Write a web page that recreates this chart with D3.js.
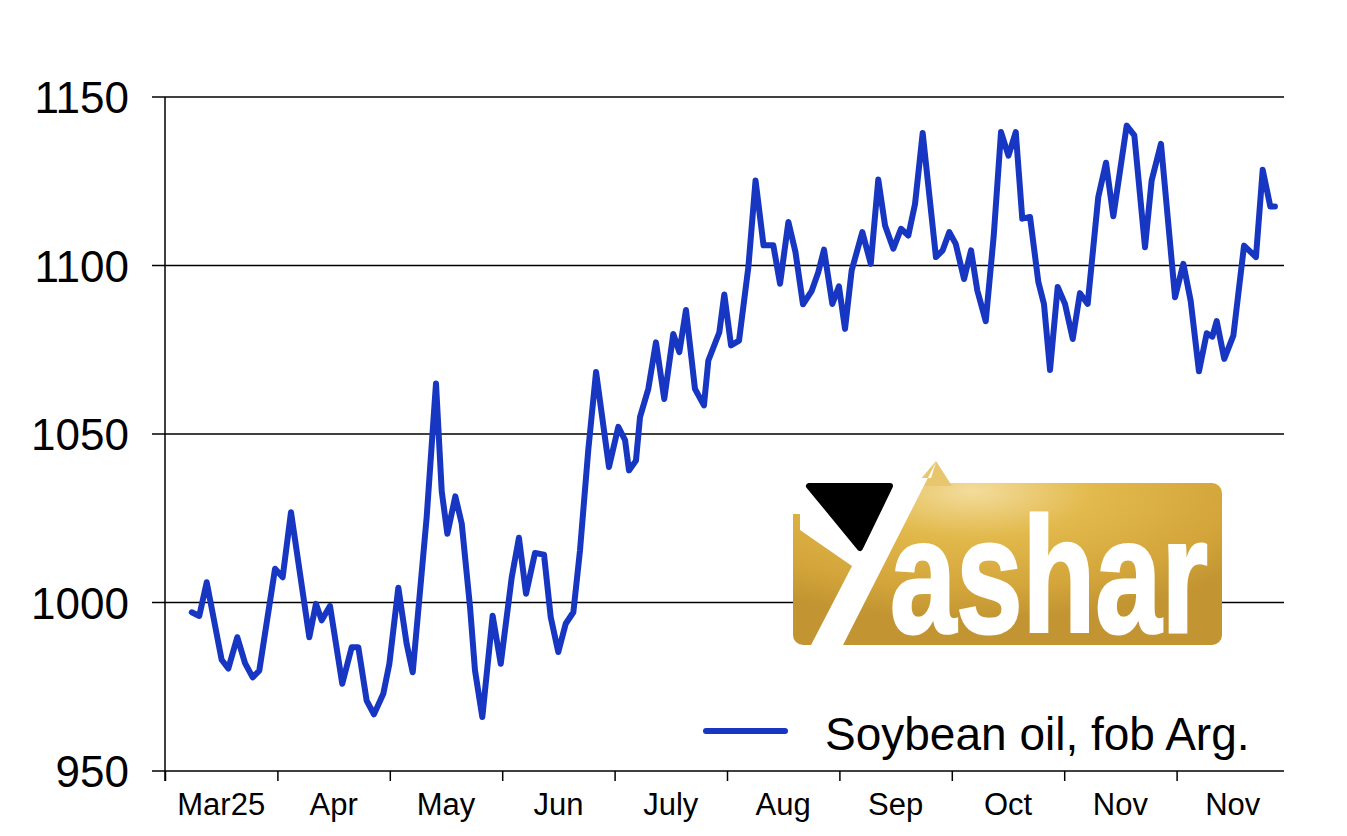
<!DOCTYPE html>
<html>
<head>
<meta charset="utf-8">
<script src="https://cdn.jsdelivr.net/npm/d3@7"></script>
<style>
  html, body { margin: 0; padding: 0; background: #ffffff; }
  svg { display: block; }
  text { font-family: "Liberation Sans", Arial, sans-serif; fill: #000; }
</style>
</head>
<body>
<svg id="chart" width="1347" height="836"></svg>
<script>
// ---- data ----
const monthLabels = ["Mar25", "Apr", "May", "Jun", "July", "Aug", "Sep", "Oct", "Nov", "Nov"];
const yTicks = [950, 1000, 1050, 1100, 1150];
const seriesName = "Soybean oil, fob Arg.";
// position in months from the start of March
const monthPos = [
  0.238, 0.305, 0.371, 0.504, 0.563, 0.643, 0.712, 0.780, 0.839, 0.979,
  1.047, 1.121, 1.284, 1.343, 1.394, 1.468, 1.577, 1.661, 1.720, 1.794,
  1.859, 1.942, 1.996, 2.076, 2.150, 2.204, 2.328, 2.411, 2.462, 2.512,
  2.583, 2.640, 2.714, 2.758, 2.823, 2.915, 2.987, 3.085, 3.149, 3.212,
  3.292, 3.372, 3.432, 3.499, 3.565, 3.633, 3.692, 3.766, 3.835, 3.950,
  4.033, 4.093, 4.128, 4.190, 4.226, 4.300, 4.368, 4.442, 4.522, 4.576,
  4.635, 4.715, 4.795, 4.834, 4.932, 4.976, 5.036, 5.107, 5.190, 5.254,
  5.325, 5.412, 5.472, 5.546, 5.609, 5.676, 5.754, 5.812, 5.863, 5.937,
  5.996, 6.050, 6.109, 6.204, 6.279, 6.346, 6.406, 6.480, 6.548, 6.613,
  6.673, 6.741, 6.859, 6.919, 6.978, 7.035, 7.109, 7.171, 7.227, 7.302,
  7.373, 7.438, 7.504, 7.569, 7.627, 7.696, 7.770, 7.820, 7.874, 7.942,
  8.007, 8.076, 8.140, 8.209, 8.303, 8.372, 8.437, 8.556, 8.624, 8.719,
  8.778, 8.861, 8.986, 9.060, 9.125, 9.199, 9.268, 9.318, 9.357, 9.424,
  9.505, 9.600, 9.706, 9.766, 9.834, 9.875
];
const prices = [
  997.1, 996.0, 1006.0, 983.0, 980.4, 989.7, 982.0, 977.8, 979.8, 1010.0,
  1007.5, 1026.8, 989.7, 999.6, 994.7, 999.0, 975.9, 986.7, 986.7, 970.9,
  966.8, 972.9, 981.8, 1004.4, 987.7, 979.3, 1025.3, 1065.0, 1033.0, 1020.4,
  1031.5, 1023.4, 998.6, 979.8, 966.0, 996.1, 981.8, 1007.5, 1019.2, 1002.6,
  1014.7, 1014.2, 995.6, 985.3, 993.7, 997.1, 1015.4, 1045.3, 1068.4, 1040.2,
  1052.1, 1048.2, 1039.2, 1042.1, 1055.0, 1063.4, 1077.2, 1060.4, 1079.7, 1074.3,
  1086.8, 1063.4, 1058.5, 1071.8, 1080.2, 1091.4, 1076.3, 1077.7, 1099.5, 1125.2,
  1106.0, 1106.0, 1094.6, 1112.9, 1104.0, 1088.5, 1092.5, 1098.0, 1104.7, 1088.6,
  1093.8, 1081.2, 1098.5, 1109.9, 1100.5, 1125.5, 1111.9, 1105.0, 1110.9, 1108.9,
  1118.3, 1139.3, 1102.5, 1104.5, 1109.9, 1106.4, 1096.0, 1104.5, 1092.6, 1083.5,
  1108.8, 1139.6, 1132.6, 1139.6, 1113.9, 1114.4, 1095.1, 1088.6, 1069.0, 1093.6,
  1088.6, 1078.2, 1091.8, 1088.6, 1120.3, 1130.5, 1114.6, 1141.5, 1138.6, 1105.4,
  1125.2, 1136.1, 1090.6, 1100.5, 1089.6, 1068.6, 1079.9, 1078.9, 1083.5, 1072.3,
  1079.2, 1105.9, 1102.5, 1128.4, 1117.5, 1117.5
];
const series = monthPos.map((m, i) => ({ m: m, v: prices[i] }));

// ---- layout ----
const svg = d3.select("#chart");
const W = 1347, H = 836;
const x = d3.scaleLinear().domain([0, 10]).range([165, 1289]);
const y = d3.scaleLinear().domain([950, 1150]).range([771, 97]);
const plotRight = 1284;
const lineColor = "#1736c2";

svg.append("rect").attr("width", W).attr("height", H).attr("fill", "#fff");

// gridlines (extend to the left as tick marks)
svg.append("g").selectAll("line").data(yTicks).join("line")
  .attr("x1", 152).attr("x2", plotRight)
  .attr("y1", d => y(d)).attr("y2", d => y(d))
  .attr("stroke", "#000").attr("stroke-width", 1.5);

// y labels
svg.append("g").selectAll("text").data(yTicks).join("text")
  .attr("x", 129).attr("y", d => y(d) + 16)
  .attr("text-anchor", "end")
  .attr("font-size", 44)
  .text(d => d);

// y axis line
svg.append("line")
  .attr("x1", x(0)).attr("x2", x(0))
  .attr("y1", y(1150)).attr("y2", 781)
  .attr("stroke", "#000").attr("stroke-width", 1.5);

// x axis ticks
const xAxis = d3.axisBottom(x)
  .tickValues(d3.range(0, monthLabels.length))
  .tickSize(10)
  .tickFormat("");
const gx = svg.append("g").attr("transform", `translate(0,${y(950)})`).call(xAxis);
gx.select(".domain").remove();
gx.selectAll(".tick line").attr("stroke", "#000").attr("stroke-width", 1.5);

// x labels centred between ticks
svg.append("g").selectAll("text").data(monthLabels).join("text")
  .attr("x", (d, i) => x(i + 0.5))
  .attr("y", 815)
  .attr("text-anchor", "middle")
  .attr("font-size", 31)
  .text(d => d);

// ---- logo (watermark) ----
const logo = svg.append("g");
const defs = svg.append("defs");
const grad = defs.append("radialGradient").attr("id", "gold")
  .attr("cx", "42%").attr("cy", "5%").attr("r", "80%")
  .attr("fx", "42%").attr("fy", "5%");
grad.append("stop").attr("offset", "0%").attr("stop-color", "#f3dc9c");
grad.append("stop").attr("offset", "35%").attr("stop-color", "#e2b94c");
grad.append("stop").attr("offset", "75%").attr("stop-color", "#d3a53a");
grad.append("stop").attr("offset", "100%").attr("stop-color", "#c29432");

logo.append("rect")
  .attr("x", 793).attr("y", 483).attr("width", 429).attr("height", 162)
  .attr("rx", 10).attr("fill", "url(#gold)");
logo.append("path")
  .attr("d", "M915,486 L936,461 L952,486 Z")
  .attr("fill", "#e8c66e");
// white cut-out (top-left background + Y stroke)
logo.append("path")
  .attr("d", "M788,478 L931,478 L936,462 L842,647 L810,647 L852,566 L800,530 L800,514 L788,514 Z")
  .attr("fill", "#fff");
// black triangle
logo.append("path")
  .attr("d", "M809,486 L890,486 L860,548 Z")
  .attr("fill", "#000").attr("stroke", "#000")
  .attr("stroke-width", 6).attr("stroke-linejoin", "round");
// lettering
logo.append("text")
  .attr("x", 890).attr("y", 632)
  .attr("font-family", "'DejaVu Sans Condensed', 'Liberation Sans Narrow', Arial, sans-serif")
  .attr("font-weight", "bold")
  .attr("font-size", 164)
  .attr("textLength", 318)
  .attr("lengthAdjust", "spacingAndGlyphs")
  .style("fill", "#fff")
  .style("stroke", "#fff")
  .style("stroke-width", 3)
  .text("ashar");

// ---- series line ----
const line = d3.line().x(d => x(d.m)).y(d => y(d.v));
svg.append("path")
  .datum(series)
  .attr("d", line)
  .attr("fill", "none")
  .attr("stroke", lineColor)
  .attr("stroke-width", 6)
  .attr("stroke-linejoin", "round")
  .attr("stroke-linecap", "round");

// ---- legend ----
svg.append("line")
  .attr("x1", 706).attr("x2", 785).attr("y1", 731).attr("y2", 731)
  .attr("stroke", lineColor).attr("stroke-width", 6).attr("stroke-linecap", "round");
svg.append("text")
  .attr("x", 825).attr("y", 750)
  .attr("font-size", 46)
  .text(seriesName);
</script>
</body>
</html>
